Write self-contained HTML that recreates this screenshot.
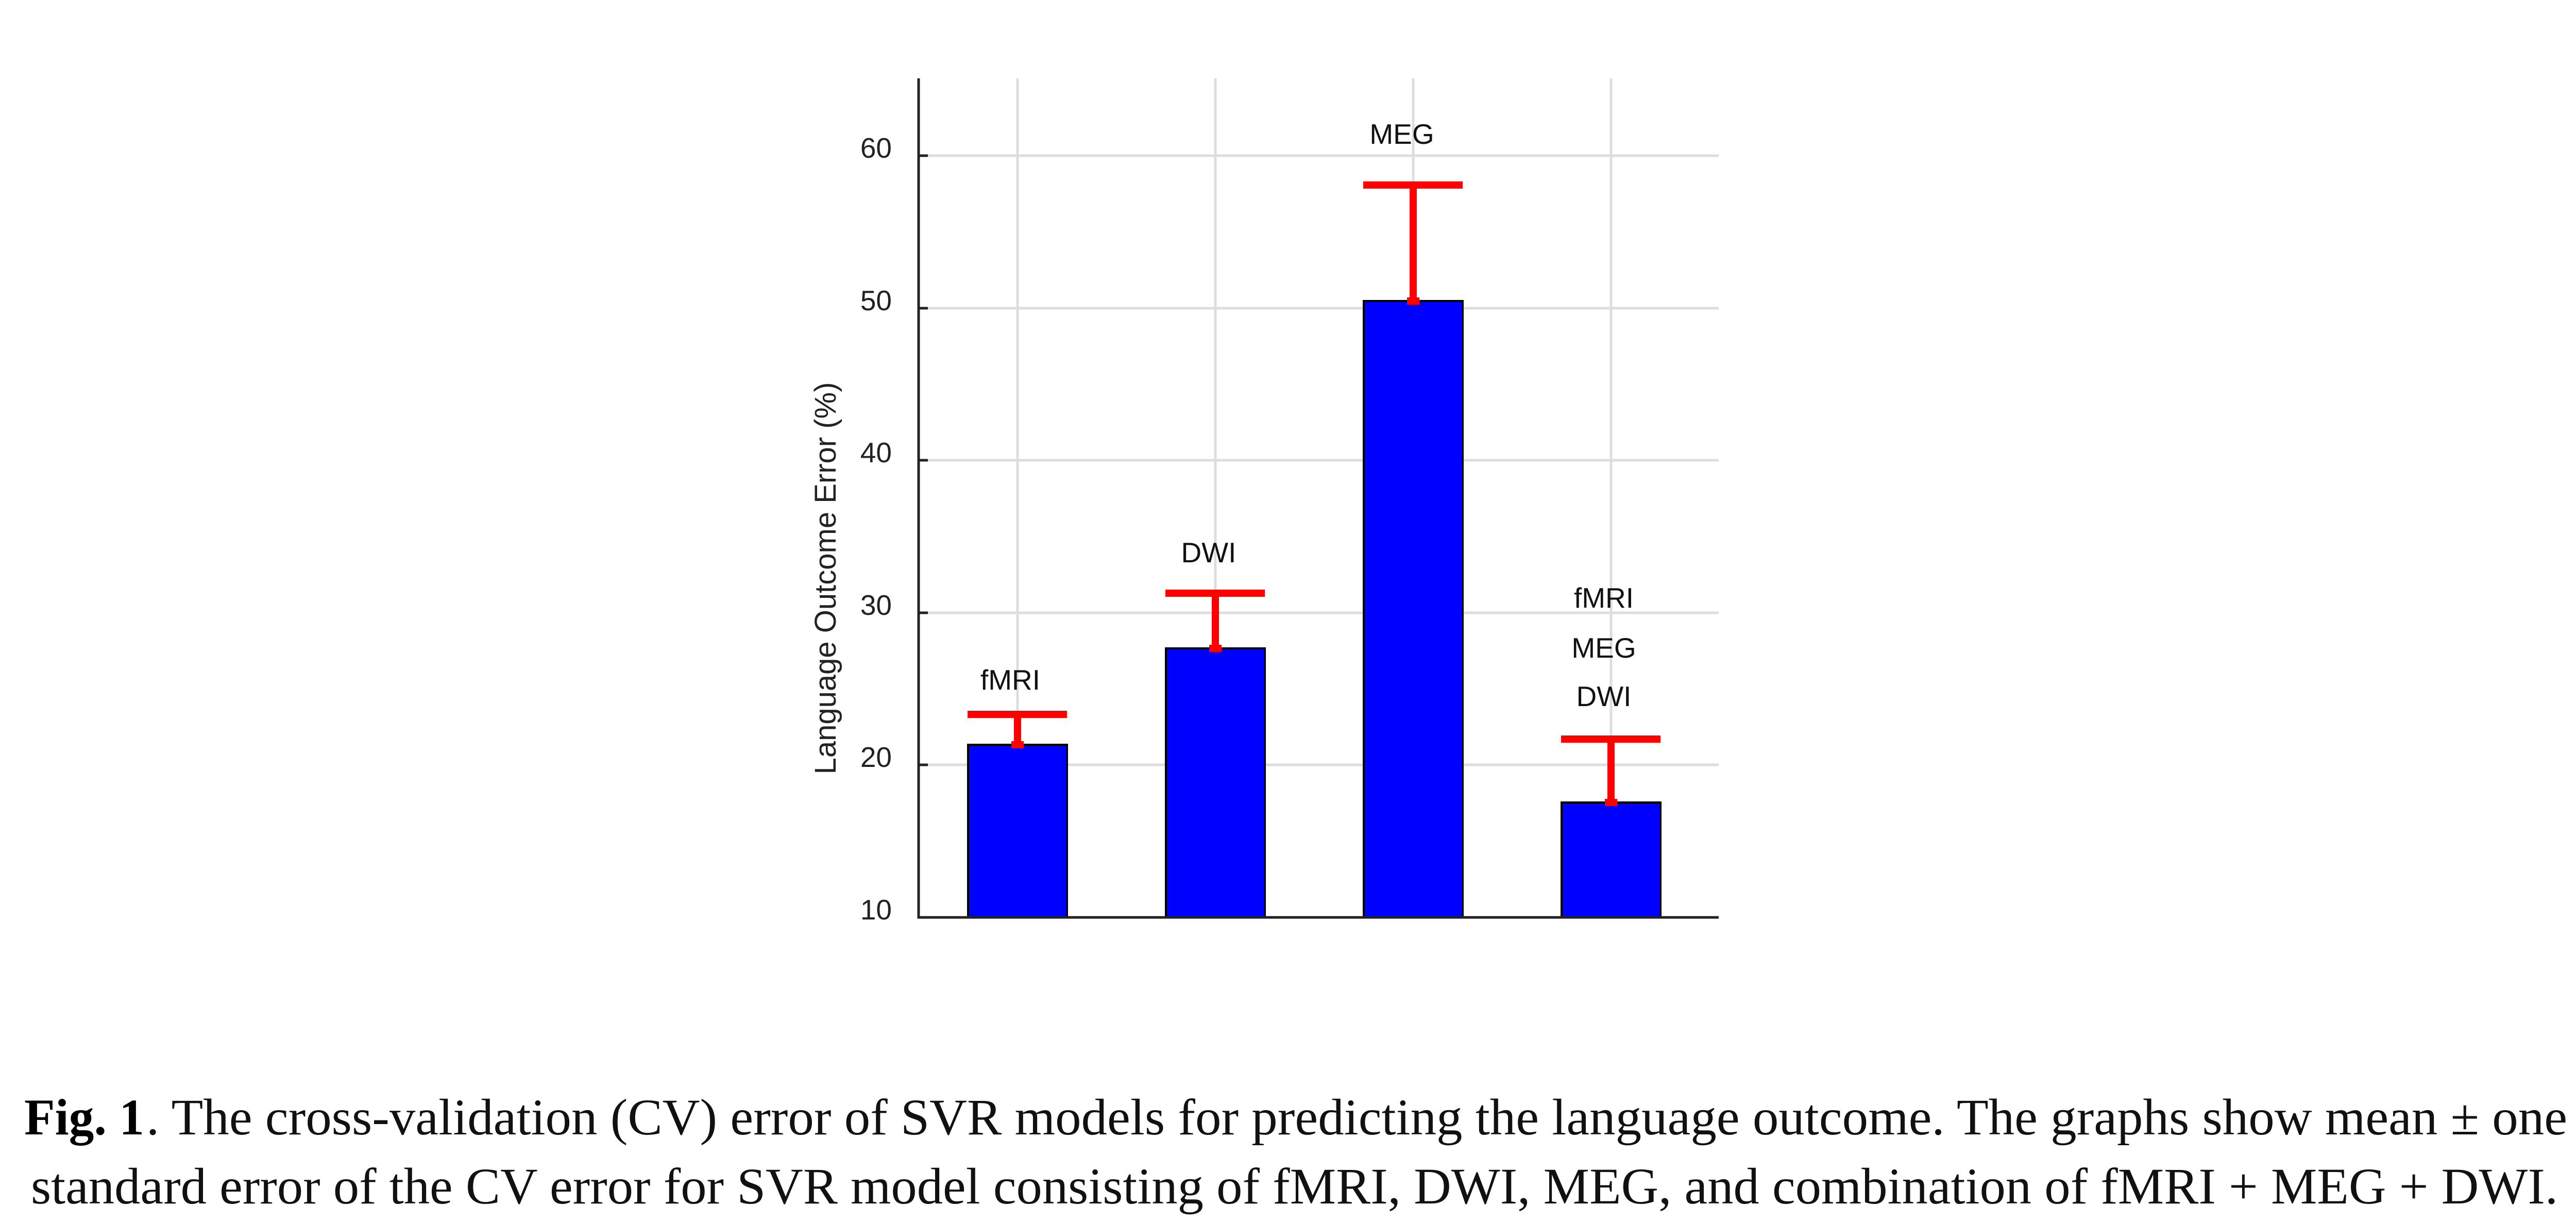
<!DOCTYPE html>
<html><head><meta charset="utf-8"><style>
html,body{margin:0;padding:0;background:#fff;}
svg{display:block;}
</style></head><body>
<svg width="5072" height="2371" viewBox="0 0 5072 2371" xmlns="http://www.w3.org/2000/svg">
<rect width="5072" height="2371" fill="#fff"/>
<g stroke="#dddddd" stroke-width="5">
<line x1="1783" y1="302" x2="3336" y2="302"/>
<line x1="1783" y1="598" x2="3336" y2="598"/>
<line x1="1783" y1="893" x2="3336" y2="893"/>
<line x1="1783" y1="1189" x2="3336" y2="1189"/>
<line x1="1783" y1="1484" x2="3336" y2="1484"/>
<line x1="1975" y1="152" x2="1975" y2="1780"/>
<line x1="2359" y1="152" x2="2359" y2="1780"/>
<line x1="2743" y1="152" x2="2743" y2="1780"/>
<line x1="3127" y1="152" x2="3127" y2="1780"/>
</g>
<g fill="#0000ff" stroke="#000" stroke-width="4">
<rect x="1879" y="1445" width="192" height="335"/>
<rect x="2263" y="1258" width="192" height="522"/>
<rect x="2647" y="584" width="192" height="1196"/>
<rect x="3031" y="1557" width="192" height="223"/>
</g>
<g stroke="#222" stroke-width="5">
<line x1="1783" y1="152" x2="1783" y2="1782"/>
<line x1="1781" y1="1780" x2="3336" y2="1780"/>
<line x1="1783" y1="302" x2="1801" y2="302"/>
<line x1="1783" y1="598" x2="1801" y2="598"/>
<line x1="1783" y1="893" x2="1801" y2="893"/>
<line x1="1783" y1="1189" x2="1801" y2="1189"/>
<line x1="1783" y1="1484" x2="1801" y2="1484"/>
</g>
<g stroke="#ff0000" stroke-width="14">
<line x1="1878" y1="1386" x2="2071" y2="1386"/><line x1="1975" y1="1386" x2="1975" y2="1445"/>
<line x1="2262" y1="1151" x2="2455" y2="1151"/><line x1="2359" y1="1151" x2="2359" y2="1258"/>
<line x1="2646" y1="359" x2="2839" y2="359"/><line x1="2743" y1="359" x2="2743" y2="584"/>
<line x1="3030" y1="1434" x2="3223" y2="1434"/><line x1="3127" y1="1434" x2="3127" y2="1557"/>
</g>
<g fill="#ff0000">
<rect x="1963" y="1438" width="24" height="14"/>
<rect x="2347" y="1251" width="24" height="14"/>
<rect x="2731" y="577" width="24" height="14"/>
<rect x="3115" y="1550" width="24" height="14"/>
</g>
<g font-family="Liberation Sans, Arial, sans-serif" font-size="55" fill="#222" text-anchor="end">
<text x="1731" y="306">60</text>
<text x="1731" y="602">50</text>
<text x="1731" y="897">40</text>
<text x="1731" y="1193">30</text>
<text x="1731" y="1488">20</text>
<text x="1731" y="1784">10</text>
</g>
<text transform="translate(1622,1122) rotate(-90)" font-family="Liberation Sans, Arial, sans-serif" font-size="58" fill="#222" text-anchor="middle">Language Outcome Error (%)</text>
<g font-family="Liberation Sans, Arial, sans-serif" font-size="55" fill="#111" text-anchor="middle">
<text x="1961" y="1338">fMRI</text>
<text x="2346" y="1091">DWI</text>
<text x="2721" y="279">MEG</text>
<text x="3113" y="1179">fMRI</text>
<text x="3113" y="1276">MEG</text>
<text x="3113" y="1370">DWI</text>
</g>
<g font-family="Liberation Serif, 'Times New Roman', serif" font-size="100" fill="#111">
<text x="47" y="2201" font-weight="bold" fill="#000" textLength="233" lengthAdjust="spacingAndGlyphs">Fig. 1</text>
<text x="284" y="2201" textLength="4699" lengthAdjust="spacingAndGlyphs">. The cross-validation (CV) error of SVR models for predicting the language outcome. The graphs show mean ± one</text>
<text x="60" y="2335" textLength="4905" lengthAdjust="spacingAndGlyphs">standard error of the CV error for SVR model consisting of fMRI, DWI, MEG, and combination of fMRI + MEG + DWI.</text>
</g>
</svg>
</body></html>
